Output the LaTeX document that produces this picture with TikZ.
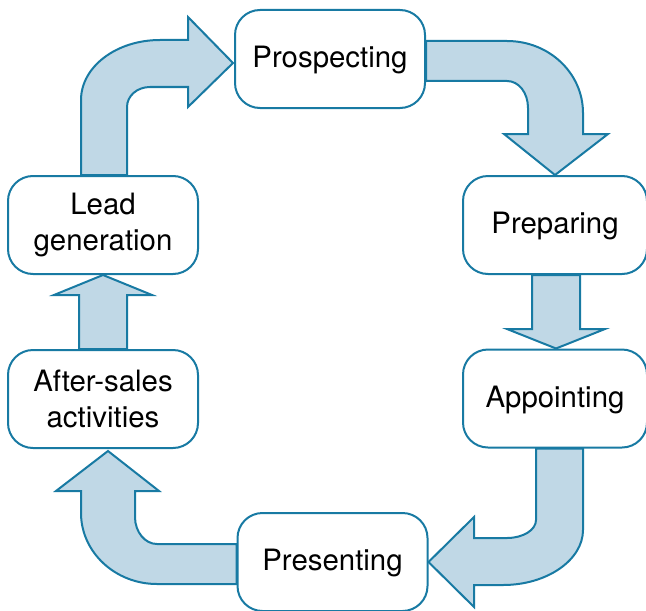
\documentclass[tikz,border=0pt]{standalone}
\usepackage{fontspec}
\setmainfont{TeX Gyre Heros}
\usetikzlibrary{calc}
\definecolor{edgeblue}{RGB}{24,122,163}
\definecolor{fillblue}{RGB}{192,216,230}

\begin{document}
\begin{tikzpicture}[x=0.5pt, y=-0.5pt,
  stage/.style={draw=edgeblue, fill=white, line width=1pt, rounded corners=12.5pt,
    minimum width=95pt, minimum height=49pt, inner sep=0pt, align=center,
    font=\fontsize{14.7pt}{18pt}\selectfont},
  oneline/.style={text height=10.6pt, text depth=2.1pt},
  blockarrow/.style={draw=edgeblue, fill=fillblue, line width=1pt}]
  \useasboundingbox (0,0) rectangle (646,610);
  % stages of the sales cycle
  \node[stage, oneline] (pros) at (330,59) {Prospecting};
  \node[stage, oneline, minimum width=92pt] (prep) at (555,225) {Preparing};
  \node[stage, oneline, minimum width=92pt] (appt) at (555,398.5) {Appointing};
  \node[stage, oneline] (pres) at (332.5,562) {Presenting};
  \node[stage] (after) at (103,399) {After-sales\\activities};
  \node[stage] (lead) at (103,225) {Lead\\generation};
  % bent arrows at the corners
  \draw[blockarrow] ($(lead.north)+(-22,0)$) -- (81,100) .. controls (81,67) and (116,40) .. (160,40)
    -- (188,40) -- (188,17) -- ($(pros.west)+(-1,4)$) -- (188,107) -- (188,87) -- (150,87)
    .. controls (137,87) and (127,96) .. (127,107) -- ($(lead.north)+(24,0)$) -- cycle;
  \draw[blockarrow] ($(pros.east)+(0,-18)$) -- (507,41) .. controls (549,41) and (583,73) .. (583,113)
    -- (583,134) -- (608,134) -- (prep.north) -- (504,134) -- (528,134) -- (528,108)
    .. controls (528,93) and (519,81) .. (507,81) -- ($(pros.east)+(0,22)$) -- cycle;
  \draw[blockarrow] ($(appt.south)+(-19,0)$) -- (536,520) .. controls (536,530) and (523,538) .. (507,538)
    -- (474,538) -- (474,517) -- (pres.east) -- (474,607) -- (474,585) -- (503,585)
    .. controls (547,585) and (583,560) .. (583,530) -- ($(appt.south)+(28,0)$) -- cycle;
  \draw[blockarrow] ($(pres.west)+(0,-18)$) -- (157,544) .. controls (145,544) and (135,532) .. (135,517)
    -- (135,491) -- (159,491) -- ($(after.south)+(5,2)$) -- (56,491) -- (81,491) -- (81,513)
    .. controls (81,552) and (115,584) .. (157,584) -- ($(pres.west)+(0,22)$) -- cycle;
  % straight arrows
  \draw[blockarrow] ($(prep.south)+(-23,0)$) -- (532,329) -- (507,329) -- ($(appt.north)+(1,0)$)
    -- (605,329) -- (580,329) -- ($(prep.south)+(25,0)$) -- cycle;
  \draw[blockarrow] ($(after.north)+(-24,0)$) -- (79,295) -- (54,295) -- (lead.south)
    -- (152,295) -- (127,295) -- ($(after.north)+(24,0)$) -- cycle;
\end{tikzpicture}
\end{document}
